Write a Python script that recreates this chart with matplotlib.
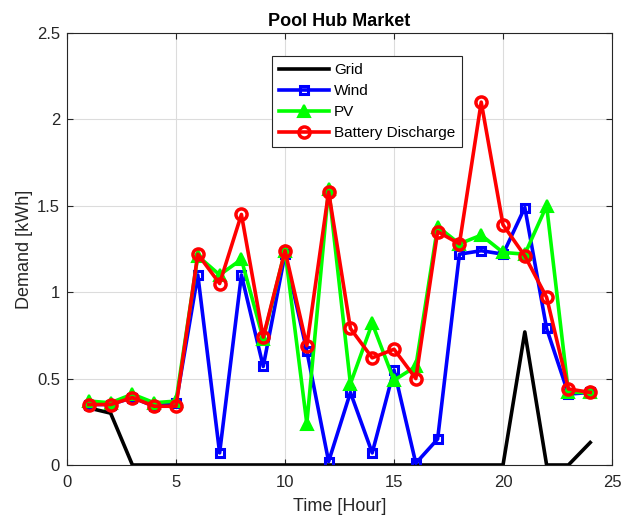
import matplotlib
matplotlib.use("Agg")
import matplotlib.pyplot as plt

hours = list(range(1, 25))
grid = [0.33, 0.30, 0, 0, 0, 0, 0, 0, 0, 0, 0, 0, 0, 0, 0, 0, 0, 0, 0, 0, 0.77, 0, 0, 0.13]
wind = [0.35, 0.35, 0.39, 0.34, 0.36, 1.10, 0.07, 1.10, 0.57, 1.22, 0.66, 0.02,
        0.42, 0.07, 0.55, 0.01, 0.15, 1.22, 1.24, 1.22, 1.49, 0.79, 0.41, 0.42]
pv = [0.37, 0.36, 0.41, 0.36, 0.37, 1.21, 1.10, 1.19, 0.73, 1.24, 0.24, 1.60,
      0.47, 0.82, 0.49, 0.57, 1.38, 1.28, 1.33, 1.23, 1.22, 1.50, 0.42, 0.42]
battery = [0.35, 0.35, 0.39, 0.34, 0.34, 1.22, 1.05, 1.45, 0.74, 1.24, 0.69, 1.58,
           0.79, 0.62, 0.67, 0.50, 1.35, 1.28, 2.10, 1.39, 1.21, 0.97, 0.44, 0.42]

plt.rcParams['font.family'] = ['Liberation Sans', 'DejaVu Sans']

fig = plt.figure(figsize=(6.24, 5.21), dpi=100)
ax = fig.add_axes([0.1074, 0.1075, 0.8734, 0.8292])

lw = 2.6
ax.plot(hours, grid, color='black', lw=lw, label='Grid')
ax.plot(hours, wind, color='#0000ff', lw=lw, marker='s', ms=6, mfc='none', mew=2.2, label='Wind')
ax.plot(hours, pv, color='#00ff00', lw=lw, marker='^', ms=8.5, mfc='#00ff00', mew=1.5, label='PV')
ax.plot(hours, battery, color='#ff0000', lw=lw, marker='o', ms=8, mfc='none', mew=2.5, label='Battery Discharge')

ax.set_xlim(0, 25)
ax.set_ylim(0, 2.5)
ax.set_xticks([0, 5, 10, 15, 20, 25])
ax.set_yticks([0, 0.5, 1, 1.5, 2, 2.5])
ax.set_yticklabels(['0', '0.5', '1', '1.5', '2', '2.5'])
ax.grid(True, color='#dcdcdc', lw=0.8)
ax.set_axisbelow(True)
for s in ax.spines.values():
    s.set_color('#262626')
    s.set_linewidth(0.8)
ax.tick_params(direction='in', top=True, right=True, labelsize=12, colors='#262626', length=4)
ax.tick_params(axis='x', pad=7)
ax.tick_params(axis='y', pad=5)

ax.set_title('Pool Hub Market', fontsize=13, fontweight='bold', pad=5)
ax.set_xlabel('Time [Hour]', fontsize=13, color='#262626', labelpad=6)
ax.set_ylabel('Demand [kWh]', fontsize=13, color='#262626', labelpad=3)

leg = ax.legend(loc='upper left', bbox_to_anchor=(0.376, 0.946), fontsize=11,
                frameon=True, fancybox=False, edgecolor='#262626', framealpha=1,
                handlelength=3.3, borderpad=0.45, labelspacing=0.46, handletextpad=0.3,
                borderaxespad=0)
leg.get_frame().set_linewidth(0.8)

fig.savefig('out.png', dpi=100)
